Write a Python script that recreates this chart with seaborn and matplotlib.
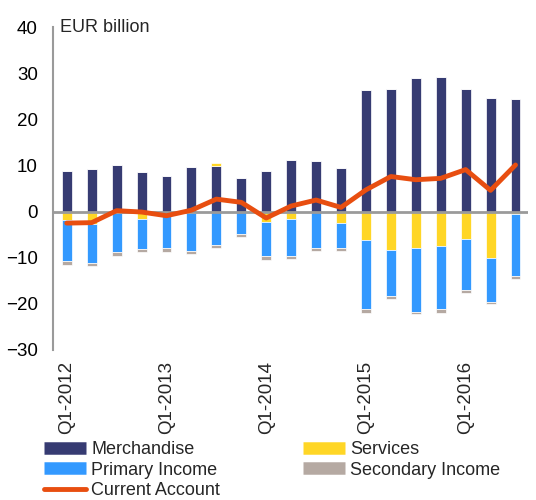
import numpy as np
import pandas as pd
import seaborn as sns
import matplotlib.pyplot as plt
from matplotlib.lines import Line2D

quarters = [f"Q{q}-{y}" for y in range(2012, 2017) for q in range(1, 5)][:19]
merchandise = [8.9, 9.2, 10.1, 8.5, 7.7, 9.6, 9.8, 7.3, 8.9, 11.2, 10.9, 9.4,
               26.3, 26.6, 29.0, 29.1, 26.6, 24.7, 24.5]
services = [-1.8, -2.7, -0.3, -1.7, -0.2, -0.4, 0.7, -0.1, -2.2, -1.7, -0.2, -2.5,
            -6.2, -8.3, -7.8, -7.5, -5.9, -10.1, -0.6]
primary_income = [-8.9, -8.4, -8.5, -6.4, -7.8, -8.1, -7.2, -4.8, -7.5, -8.0, -7.8, -5.4,
                  -14.9, -10.0, -14.0, -13.6, -11.2, -9.6, -13.3]
secondary_income = [-0.9, -0.7, -0.8, -0.6, -0.7, -0.7, -0.7, -0.7, -0.9, -0.6, -0.5, -0.7,
                    -0.9, -0.7, -0.5, -0.9, -0.6, -0.4, -0.7]
current_account = [-2.5, -2.4, 0.2, -0.1, -0.9, 0.3, 2.7, 2.0, -1.4, 1.2, 2.5, 0.9,
                   4.7, 7.6, 6.9, 7.2, 9.1, 4.6, 10.1]

c_merch = "#363b72"
c_serv = "#ffd626"
c_prim = "#3399ff"
c_sec = "#b5a9a2"
c_ca = "#e84e10"

df = pd.DataFrame({"quarter": quarters, "merch": merchandise, "serv": services,
                   "prim": primary_income, "sec": secondary_income, "ca": current_account})
serv_pos = df["serv"].clip(lower=0)
serv_neg = df["serv"].clip(upper=0)

sns.set_style("white")
plt.rcParams["font.family"] = ["Liberation Sans", "DejaVu Sans"]

fig = plt.figure(figsize=(5.36, 5.0), dpi=100)
ax = fig.add_axes([0.099, 0.30, 0.886, 0.646])

bar_kw = dict(width=0.4, edgecolor="white", linewidth=0.5, errorbar=None, ax=ax, zorder=2)
sns.barplot(x=df["quarter"], y=df["merch"], color=c_merch, saturation=1, **bar_kw)
sns.barplot(x=df["quarter"], y=serv_pos, bottom=df["merch"], color=c_serv, saturation=1, **bar_kw)
sns.barplot(x=df["quarter"], y=serv_neg, color=c_serv, saturation=1, **bar_kw)
sns.barplot(x=df["quarter"], y=df["prim"], bottom=serv_neg, color=c_prim, saturation=1, **bar_kw)
sns.barplot(x=df["quarter"], y=df["sec"], bottom=serv_neg + df["prim"], color=c_sec,
            saturation=1, **bar_kw)

ax.axhline(0, color="#9a9a9a", linewidth=2, zorder=3)
sns.lineplot(x=np.arange(len(quarters)), y=df["ca"], color=c_ca, linewidth=3.5,
             ax=ax, zorder=4)

ax.set_xlim(-0.55, 18.5)
ax.set_ylim(-30, 40)
ax.set_yticks(range(-30, 41, 10))
ax.set_xticks(range(0, 19, 4))
ax.set_xticklabels([quarters[i] for i in range(0, 19, 4)], rotation=90)
ax.tick_params(axis="y", length=0, pad=11, labelsize=13.5, colors="#000000")
ax.tick_params(axis="x", length=0, pad=8, labelsize=13.5)
ax.set_xlabel("")
ax.set_ylabel("")
for s in ["top", "right", "bottom"]:
    ax.spines[s].set_visible(False)
ax.spines["left"].set_color("#9a9a9a")
ax.spines["left"].set_linewidth(1.5)

ax.text(0.015, 1.0, "EUR billion", transform=ax.transAxes, ha="left", va="center",
        fontsize=13)

handles = [
    Line2D([], [], color=c_merch, linewidth=9, solid_capstyle="butt"),
    Line2D([], [], color=c_prim, linewidth=9, solid_capstyle="butt"),
    Line2D([], [], color=c_ca, linewidth=3.5, solid_capstyle="round"),
    Line2D([], [], color=c_serv, linewidth=9, solid_capstyle="butt"),
    Line2D([], [], color=c_sec, linewidth=9, solid_capstyle="butt"),
]
labels = ["Merchandise", "Primary Income", "Current Account", "Services", "Secondary Income"]
fig.legend(handles, labels, loc="upper left", bbox_to_anchor=(0.082, 0.117), ncol=2,
           frameon=False, fontsize=13, handlelength=2.33, handletextpad=0.28,
           labelspacing=0.18, columnspacing=4.6, borderpad=0, borderaxespad=0)

fig.savefig("out.png", dpi=100)
